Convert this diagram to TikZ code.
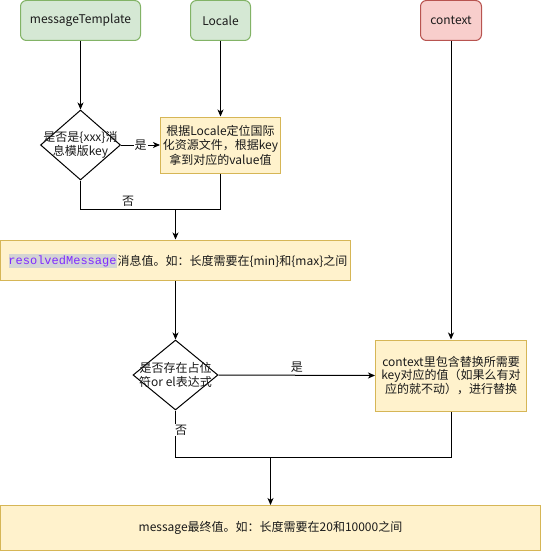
\documentclass[tikz,border=0pt]{standalone}
\usepackage{fontspec}
\setmainfont{Noto Sans CJK SC}
\newfontfamily\monof{Liberation Mono}
\usetikzlibrary{arrows.meta,shapes.geometric}
\definecolor{gfill}{HTML}{D5E8D4}
\definecolor{gline}{HTML}{82B366}
\definecolor{rfill}{HTML}{F8CECC}
\definecolor{rline}{HTML}{B85450}
\definecolor{yfill}{HTML}{FFF2CC}
\definecolor{yline}{HTML}{D6B656}
\definecolor{hlgray}{HTML}{D4D4D4}
\definecolor{codepurple}{HTML}{7F2BFF}
\definecolor{txt}{HTML}{1A1A1A}
\tikzset{
  base/.style={line width=1pt, inner sep=0pt, align=center, text=txt},
  gbox/.style={base, draw=gline, fill=gfill, rounded corners=6pt, minimum height=40pt},
  rbox/.style={base, draw=rline, fill=rfill, rounded corners=6pt, minimum height=40pt},
  ybox/.style={base, draw=yline, fill=yfill},
  dia/.style={base, draw=black, fill=white, diamond},
  arr/.style={line width=1pt, -{Stealth[length=7pt,width=6pt,inset=2pt]}},
  ln/.style={line width=1pt},
  lbl/.style={inner sep=1pt, fill=white, text=txt},
}
\begin{document}
\begin{tikzpicture}[x=1pt,y=-1pt,font=\fontsize{12}{14.5}\selectfont]
\useasboundingbox (0,0) rectangle (541,551);
% top inputs
\node[gbox, minimum width=120pt] (mt) at (80.5,20.5) {messageTemplate};
\node[gbox, minimum width=60pt] (loc) at (220.5,20.5) {Locale};
\node[rbox, minimum width=61pt] (ctx) at (451,20.5) {context};
% first decision
\node[dia, minimum width=80pt, minimum height=70pt] (d1) at (80.5,145) {};
\node[base, font=\fontsize{12}{13.5}\selectfont] (d1t) at (d1) {是否是\{xxx\}消\\息模版key};
\node[ybox, minimum width=120pt, minimum height=56pt] (b1) at (220.5,145) {根据Locale定位国际\\化资源文件，根据key\\拿到对应的value值};
% resolved message
\node[ybox, minimum width=350pt, minimum height=40pt] (res) at (175,260) {};
\node[base, fill=hlgray, anchor=west, text=codepurple, minimum height=14pt] (rm) at (8,261) {\monof resolvedMessage};
\node[base, anchor=west] (rmt) at (rm.east) {消息值。如：长度需要在\{min\}和\{max\}之间};
% second decision
\node[dia, minimum width=85pt, minimum height=70pt] (d2) at (175.5,375) {};
\node[base, font=\fontsize{12}{13.5}\selectfont] (d2t) at (d2) {是否存在占位\\符or el表达式};
\node[ybox, minimum width=151pt, minimum height=71pt, font=\fontsize{12}{13.5}\selectfont] (b2) at (451,375.5) {context里包含替换所需要\\key对应的值（如果么有对\\应的就不动），进行替换};
% final
\node[ybox, minimum width=540pt, minimum height=45pt] (fin) at (270.5,528) {message最终值。如：长度需要在20和10000之间};
% junctions
\coordinate (m1) at (175.5,209);
\coordinate (m2) at (270.5,457);
% connectors
\draw[arr] (mt.south) -- (d1.north);
\draw[arr] (loc.south) -- (loc.south |- b1.north);
\draw[arr] (d1.east) -- node[lbl] (y1) {是} (b1.west);
\draw[ln] (d1.south) |- node[pos=0.75, above=1pt, inner sep=1pt, text=txt] (n1) {否} (m1);
\draw[ln] (b1.south) |- (m1);
\draw[arr] (m1) -- (m1 |- res.north);
\draw[arr] (res.south -| d2.north) -- (d2.north);
\draw[arr] (ctx.south) -- (ctx.south |- b2.north);
\draw[arr] (d2.east) -- node[above=1pt, inner sep=1pt, text=txt] (y2) {是} (b2.west);
\draw[ln] (d2.south) |- (m2);
\draw[ln] (b2.south) |- (m2);
\node[lbl] (n2) at (181,430) {否};
\draw[arr] (m2) -- (m2 |- fin.north);
\end{tikzpicture}
\end{document}
